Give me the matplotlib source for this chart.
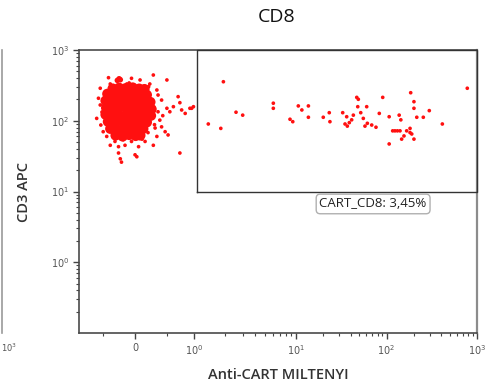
import numpy as np
import matplotlib
matplotlib.use("Agg")
import matplotlib.pyplot as plt
from matplotlib.lines import Line2D
from matplotlib.ticker import FixedLocator, FixedFormatter, NullFormatter

# ---- events (Anti-CART MILTENYI, CD3 APC) ----
# dense CD3+ / CART- population (drawn with larger dots so it reads as a solid blob)
core_x = [-0.38, -0.27, -0.16, -0.04, 0.07, 0.16,
          -0.47, -0.36, -0.26, -0.14, -0.02, 0.09, 0.20,
          -0.50, -0.40, -0.28, -0.17, -0.05, 0.06, 0.17, 0.26,
          -0.49, -0.38, -0.27, -0.15, -0.03, 0.08, 0.19, 0.28,
          -0.50, -0.39, -0.29, -0.16, -0.05, 0.07, 0.18, 0.27,
          -0.46, -0.36, -0.24, -0.13, -0.01, 0.10, 0.20,
          -0.42, -0.31, -0.19, -0.08, 0.04, 0.14,
          -0.33, -0.21, -0.10, 0.01, 0.09]
core_y = [285, 292, 288, 295, 284, 280,
          240, 236, 243, 238, 241, 235, 232,
          192, 188, 195, 190, 186, 193, 189, 184,
          152, 149, 155, 150, 147, 153, 149, 146,
          122, 119, 124, 120, 117, 123, 121, 118,
          97, 95, 99, 96, 94, 98, 95,
          77, 75, 78, 76, 74, 77,
          62, 60, 63, 61, 62]

# small knot of events above the main population
knot_x = [-0.30, -0.25, -0.27]
knot_y = [372, 380, 392]

# sparse events around the main population
spread_x = [-0.45, -0.06, 0.085, 0.31, 0.54, 0.23, 0.37, -0.59, -0.62, -0.65,
            -0.58, -0.54, -0.48, 0.45, 0.39, 0.54, 0.65, 0.73, 0.79, 0.85,
            0.93, 0.99, 0.45, 0.51, 0.37, 0.56, -0.28, -0.17, -0.06, 0.06,
            -0.34, -0.28, -0.25, -0.23, 0.00, 0.31, 0.76, -0.42, 0.17, 0.03,
            0.59, 0.76, 0.96, -0.59, -0.56, 0.39, 0.42, 0.25, -0.14, -0.42,
            0.34, -0.20, 0.12, -0.52, 0.33, 0.47, -0.10, 0.22]
spread_y = [406, 398, 377, 443, 377, 303, 272, 288, 208, 108,
            87, 70, 60, 196, 134, 150, 158, 219, 142, 127,
            150, 158, 82, 70, 60, 63, 43, 45, 51, 43,
            51, 35, 29, 26, 33, 45, 35, 45, 51, 31,
            134, 180, 150, 167, 133, 231, 102, 331, 331, 331,
            79, 54, 55, 112, 88, 118, 342, 68]

# events inside the CART_CD8 gate
gate_x = [1.94, 1.38, 1.83, 2.58, 3.0, 5.99, 5.99, 8.73, 9.29, 10.6,
          11.6, 13.7, 13.7, 20.0, 23.3, 23.7, 32.8, 36.3, 34.8, 36.9,
          38.8, 41.2, 43.0, 46.9, 48.8, 48.1, 51.9, 55.4, 60.4, 57.8,
          61.4, 68.6, 76.5, 83.2, 90.8, 107, 107, 117, 124, 132,
          141, 138, 144, 147, 156, 167, 182, 182, 190, 185,
          201, 201, 201, 216, 255, 297, 414, 781]
gate_y = [356, 90, 78, 132, 120, 177, 150, 105, 97, 162,
          142, 162, 112, 112, 130, 97, 130, 114, 90, 84,
          94, 103, 120, 214, 201, 158, 130, 108, 158, 84,
          92, 87, 81, 127, 214, 114, 47, 72, 72, 72,
          72, 120, 103, 55, 61, 72, 68, 78, 65, 249,
          186, 150, 55, 112, 112, 139, 90, 288]

gate_x0, gate_x1 = 1.07, 1000
gate_y0, gate_y1 = 10, 1000
gate_label = "CART_CD8: 3,45%"

x_major = [0, 1, 10, 100, 1000]
x_major_labels = ["0", "$10^{0}$", "$10^{1}$", "$10^{2}$", "$10^{3}$"]
y_major = [1, 10, 100, 1000]
y_major_labels = ["$10^{0}$", "$10^{1}$", "$10^{2}$", "$10^{3}$"]


# ---- display transform for the fluorescence axis (linear near 0, log above) ----
def fwd(x):
    x = np.asarray(x, dtype=float)
    xs = np.maximum(x, 1e-12)
    return np.where(x <= 1, 59.0 * x,
                    np.where(x <= 10, 59.0 + 102.0 * np.log10(xs),
                             161.0 + 90.5 * np.log10(xs / 10.0)))


def inv(u):
    u = np.asarray(u, dtype=float)
    return np.where(u <= 59, u / 59.0,
                    np.where(u <= 161, 10 ** ((u - 59.0) / 102.0),
                             10.0 * 10 ** ((u - 161.0) / 90.5)))


W, H = 499, 386
fig = plt.figure(figsize=(W / 100, H / 100), dpi=100)
ax = fig.add_axes([79 / W, 53 / H, 398 / W, 283 / H])

ax.set_xscale("function", functions=(fwd, inv))
ax.set_yscale("log")
ax.set_xlim(-0.95, 1000)
ax.set_ylim(0.1, 1000)

red = "#ff1010"
ax.scatter(core_x, core_y, s=55, color=red, edgecolors="none", zorder=3)
ax.scatter(knot_x, knot_y, s=16, color=red, edgecolors="none", zorder=3)
ax.scatter(spread_x, spread_y, s=7, color=red, edgecolors="none", zorder=3)
ax.scatter(gate_x, gate_y, s=7, color=red, edgecolors="none", zorder=3)

# gate outline
ax.plot([gate_x0, gate_x1, gate_x1, gate_x0, gate_x0],
        [gate_y0, gate_y0, gate_y1, gate_y1, gate_y0],
        color="#333333", lw=1.0, clip_on=False, zorder=4)

ax.text(0.739, 0.456, gate_label, transform=ax.transAxes, ha="center",
        va="center", fontsize=9.5, family="Open Sans", color="#222222",
        bbox=dict(boxstyle="round,pad=0.25,rounding_size=0.3", fc="white",
                  ec="#b0b0b0", lw=1.0), zorder=5)

# ticks
x_minor = [-0.55, 0.55] + [m * d for d in (1, 10, 100) for m in range(2, 10)]
ax.xaxis.set_major_locator(FixedLocator(x_major))
ax.xaxis.set_major_formatter(FixedFormatter(x_major_labels))
ax.xaxis.set_minor_locator(FixedLocator(x_minor))
ax.xaxis.set_minor_formatter(NullFormatter())

y_minor = [m * d for d in (0.1, 1, 10, 100) for m in range(2, 10)]
ax.yaxis.set_major_locator(FixedLocator(y_major))
ax.yaxis.set_major_formatter(FixedFormatter(y_major_labels))
ax.yaxis.set_minor_locator(FixedLocator(y_minor))
ax.yaxis.set_minor_formatter(NullFormatter())

ax.tick_params(which="major", length=4, width=1, color="#444444",
               labelsize=7, labelcolor="#555555", pad=3)
ax.tick_params(which="minor", length=2, width=0.8, color="#444444")

for side in ("left", "bottom", "top"):
    ax.spines[side].set_color("#4a4a4a")
    ax.spines[side].set_linewidth(1.2)
ax.spines["right"].set_color("#8c8c8c")
ax.spines["right"].set_linewidth(1.6)

ax.set_xlabel("Anti-CART MILTENYI", fontsize=10.5, family="Open Sans",
              fontweight="semibold", color="#333333", labelpad=8)
ax.set_ylabel("CD3 APC", fontsize=10.5, family="Open Sans",
              fontweight="semibold", color="#333333", labelpad=14)

fig.text(277 / W, 1 - 17 / H, "CD8", ha="center", va="center",
         fontsize=14, family="Open Sans", color="#111111")

# edge of the neighbouring panel
fig.add_artist(Line2D([1.5 / W, 1.5 / W], [1 - 50 / H, 1 - 333 / H],
                      transform=fig.transFigure, color="#9a9a9a", lw=1.2))
fig.text(1 / W, 1 - 348 / H, "$10^{3}$", ha="left", va="center",
         fontsize=6, color="#555555")

fig.savefig("out.png", dpi=100)
